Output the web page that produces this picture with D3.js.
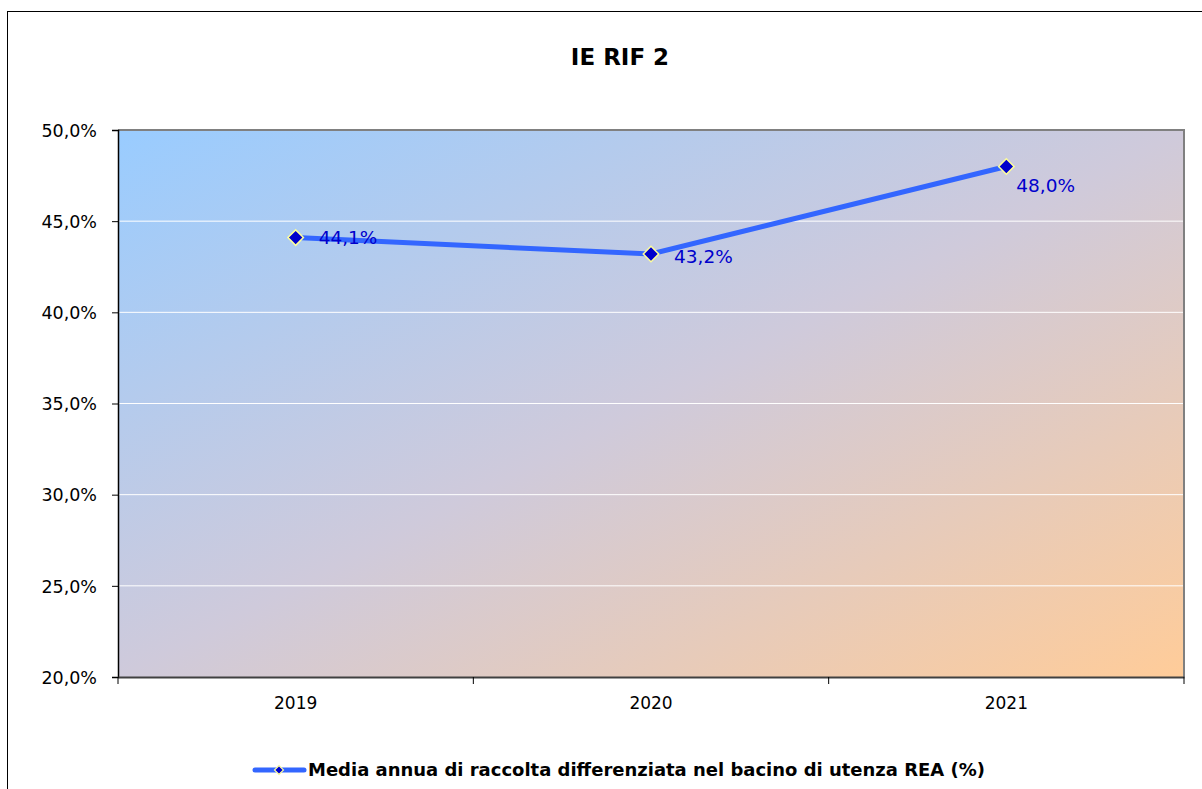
<!DOCTYPE html>
<html><head><meta charset="utf-8">
<script src="https://cdn.jsdelivr.net/npm/d3@7"></script>
<style>body{margin:0;background:#fff;} svg{display:block;}</style>
</head><body>
<script>
const categories = ["2019", "2020", "2021"];
const values = [44.1, 43.2, 48.0];
const yTicks = [20, 25, 30, 35, 40, 45, 50];
const title = "IE RIF 2";
const seriesName = "Media annua di raccolta differenziata nel bacino di utenza REA (%)";

const W = 1202, H = 789;
const m = {left: 118, top: 130, right: 1184, bottom: 677};
const fmt = v => v.toFixed(1).replace(".", ",") + "%";
const font = "DejaVu Sans, Verdana, sans-serif";

const svg = d3.select("body").append("svg").attr("width", W).attr("height", H);
const defs = svg.append("defs");
const g = defs.append("linearGradient").attr("id", "bg").attr("x1", 0).attr("y1", 0).attr("x2", 1).attr("y2", 1);
g.append("stop").attr("offset", "0%").attr("stop-color", "#99ccff");
g.append("stop").attr("offset", "50%").attr("stop-color", "#cfcadb");
g.append("stop").attr("offset", "100%").attr("stop-color", "#ffcc99");

svg.append("rect").attr("x", 7.5).attr("y", 11.5).attr("width", 1210).attr("height", 800)
  .attr("fill", "#fff").attr("stroke", "#000").attr("stroke-width", 1);

const x = d3.scaleBand().domain(categories).range([m.left, m.right]);
const y = d3.scaleLinear().domain([20, 50]).range([m.bottom, m.top]);

svg.append("rect").attr("x", m.left).attr("y", m.top).attr("width", m.right - m.left).attr("height", m.bottom - m.top)
  .attr("fill", "url(#bg)");

// gridlines
svg.append("g").selectAll("line").data(yTicks.filter(t => t > 20 && t < 50)).join("line")
  .attr("x1", m.left).attr("x2", m.right).attr("y1", d => y(d)).attr("y2", d => y(d))
  .attr("stroke", "#fff").attr("stroke-width", 1);

// plot border top/right
svg.append("path").attr("d", `M${m.left},${m.top}H${m.right}V${m.bottom}`)
  .attr("fill", "none").attr("stroke", "#808080").attr("stroke-width", 2);

// y axis
const ya = svg.append("g").attr("transform", `translate(${m.left},0)`)
  .call(d3.axisLeft(y).tickValues(yTicks).tickFormat(fmt).tickSize(6).tickPadding(15));
ya.select(".domain").attr("stroke", "#000").attr("stroke-width", 1.5);
ya.selectAll(".tick line").attr("stroke", "#000");
ya.selectAll("text").attr("font-family", font).attr("font-size", 17.5).attr("fill", "#000").attr("dy", "0.36em");

// x axis
const xa = svg.append("g").attr("transform", `translate(0,${m.bottom})`)
  .call(d3.axisBottom(x).tickSize(0).tickPadding(20));
xa.select(".domain").attr("stroke", "#404040").attr("stroke-width", 2);
xa.selectAll("text").attr("font-family", font).attr("font-size", 17).attr("fill", "#000");
const bounds = [m.left].concat(categories.map(c => x(c) + x.bandwidth()));
svg.append("g").selectAll("line").data(bounds).join("line")
  .attr("x1", d => d).attr("x2", d => d).attr("y1", m.bottom).attr("y2", m.bottom + 7)
  .attr("stroke", "#000");

// line
const cx = c => x(c) + x.bandwidth() / 2;
const line = d3.line().x((d, i) => cx(categories[i])).y(d => y(d));
svg.append("path").datum(values).attr("d", line).attr("fill", "none")
  .attr("stroke", "#3366ff").attr("stroke-width", 5);

const diamond = d3.symbol().type(d3.symbolSquare).size(120);
svg.append("g").selectAll("path").data(values).join("path")
  .attr("d", diamond)
  .attr("transform", (d, i) => `translate(${cx(categories[i])},${y(d)}) rotate(45)`)
  .attr("fill", "#0000cc").attr("stroke", "#ffff99").attr("stroke-width", 1.5);

const labelOffsets = [[23, 0], [23, 2], [10, 19]];
svg.append("g").selectAll("text").data(values).join("text")
  .attr("x", (d, i) => cx(categories[i]) + labelOffsets[i][0])
  .attr("y", (d, i) => y(d) + labelOffsets[i][1])
  .attr("dy", "0.36em")
  .attr("font-family", font).attr("font-size", 18.5).attr("fill", "#0000cc")
  .text(fmt);

// title
svg.append("text").attr("x", 620).attr("y", 65).attr("text-anchor", "middle")
  .attr("font-family", font).attr("font-size", 23).attr("font-weight", "bold").text(title);

// legend
const lg = svg.append("g");
lg.append("line").attr("x1", 255).attr("x2", 304).attr("y1", 770).attr("y2", 770)
  .attr("stroke", "#3366ff").attr("stroke-width", 5).attr("stroke-linecap", "round");
lg.append("path").attr("d", d3.symbol().type(d3.symbolSquare).size(40))
  .attr("transform", "translate(279,770) rotate(45)")
  .attr("fill", "#0000cc").attr("stroke", "#ffff99").attr("stroke-width", 1.2);
const lt = lg.append("text").attr("x", 308).attr("y", 770).attr("dy", "0.36em")
  .attr("font-family", font).attr("font-size", 18).attr("font-weight", "bold").text(seriesName);
lt.attr("textLength", 677).attr("lengthAdjust", "spacingAndGlyphs");
</script>
</body></html>
